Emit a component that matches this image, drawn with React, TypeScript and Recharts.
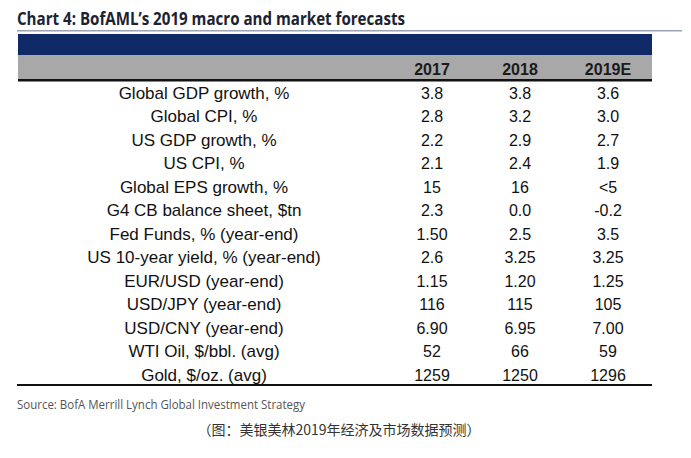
import React from 'react';
import { ScatterChart, Scatter, XAxis, YAxis } from 'recharts';

const years = ['2017', '2018', '2019E'];

const rowLabels = [
  'Global GDP growth, %',
  'Global CPI, %',
  'US GDP growth, %',
  'US CPI, %',
  'Global EPS growth, %',
  'G4 CB balance sheet, $tn',
  'Fed Funds, % (year-end)',
  'US 10-year yield, % (year-end)',
  'EUR/USD (year-end)',
  'USD/JPY (year-end)',
  'USD/CNY (year-end)',
  'WTI Oil, $/bbl. (avg)',
  'Gold, $/oz. (avg)',
];

const values2017 = ['3.8', '2.8', '2.2', '2.1', '15', '2.3', '1.50', '2.6', '1.15', '116', '6.90', '52', '1259'];
const values2018 = ['3.8', '3.2', '2.9', '2.4', '16', '0.0', '2.5', '3.25', '1.20', '115', '6.95', '66', '1250'];
const values2019 = ['3.6', '3.0', '2.7', '1.9', '<5', '-0.2', '3.5', '3.25', '1.25', '105', '7.00', '59', '1296'];

const W = 691;
const H = 458;
const TABLE_FONT = '"Liberation Sans", Arial, sans-serif';

type Cell = { col: number; row: number; text: string; header?: boolean };

const columns = [values2017, values2018, values2019];
const cells: Cell[] = [
  ...years.map((y, c) => ({ col: c, row: 0, text: y, header: true })),
  ...columns.flatMap((vals, c) => vals.map((v, r) => ({ col: c, row: r + 1, text: v }))),
];

function CellText(props: any) {
  const { cx, cy, payload } = props;
  if (cx == null || cy == null) return null;
  return (
    <text
      x={cx}
      y={cy}
      textAnchor="middle"
      dominantBaseline="central"
      fontFamily={TABLE_FONT}
      fontSize={16}
      fontWeight={payload.header ? 700 : 400}
      fill={payload.header ? '#1a1a1a' : '#111'}
    >
      {payload.text}
    </text>
  );
}

function RowLabel(props: any) {
  const { x, y, payload } = props;
  const label = payload.value >= 1 ? rowLabels[payload.value - 1] : '';
  return (
    <text
      x={x - 220}
      y={y}
      textAnchor="middle"
      dominantBaseline="central"
      fontFamily={TABLE_FONT}
      fontSize={17}
      fill="#111"
    >
      {label}
    </text>
  );
}

export default function App() {
  const rowTicks = rowLabels.map((_, i) => i + 1);
  return (
    <div style={{ position: 'absolute', left: 0, top: 0, width: W, height: H, background: '#fff', overflow: 'hidden' }}>
      <svg width={W} height={H} style={{ position: 'absolute', left: 0, top: 0 }}>
        <text
          x={17}
          y={25}
          fontFamily='"Open Sans", sans-serif'
          fontWeight={700}
          fontSize={18}
          fill="#1b2333"
          textLength={388}
          lengthAdjust="spacingAndGlyphs"
        >
          Chart 4: BofAML’s 2019 macro and market forecasts
        </text>
        <rect x={17} y={30} width={665} height={1.5} fill="#9aa4b4" />
        <rect x={18} y={34} width={634} height={21} fill="#0f2a66" />
        <rect x={18} y={55} width={634} height={24} fill="#a8a8a8" />
        <rect x={18} y={79} width={634} height={2.5} fill="#111" />
        <rect x={17} y={384} width={635} height={2} fill="#111" />
        <text
          x={17}
          y={409}
          fontFamily='"Open Sans", sans-serif'
          fontSize={12}
          fill="#555"
          textLength={288}
          lengthAdjust="spacingAndGlyphs"
        >
          Source: BofA Merrill Lynch Global Investment Strategy
        </text>
        <text
          x={339}
          y={435}
          textAnchor="middle"
          fontFamily='"Noto Sans CJK SC", sans-serif'
          fontSize={14}
          fill="#333"
        >
          （图：美银美林2019年经济及市场数据预测）
        </text>
      </svg>
      <div style={{ position: 'absolute', left: 0, top: 0 }}>
        <ScatterChart width={W} height={H} margin={{ top: 69.5, right: 83, bottom: 83, left: 0 }}>
          <XAxis type="number" dataKey="col" domain={[0, 2]} hide />
          <YAxis
            type="number"
            dataKey="row"
            domain={[0, 13]}
            reversed
            ticks={rowTicks}
            interval={0}
            width={432}
            axisLine={false}
            tickLine={false}
            tick={<RowLabel />}
          />
          <Scatter data={cells} shape={<CellText />} isAnimationActive={false} />
        </ScatterChart>
      </div>
    </div>
  );
}
